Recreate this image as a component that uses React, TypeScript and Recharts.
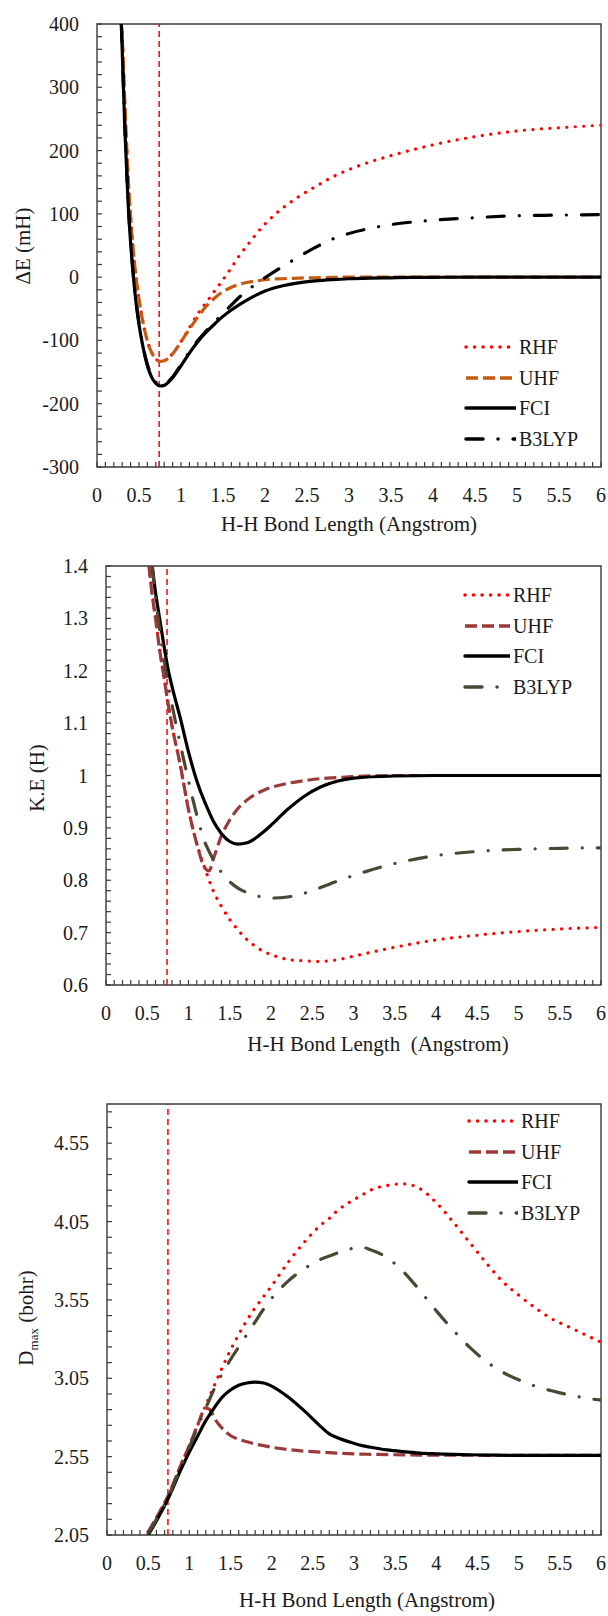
import React from "react";
import {
  LineChart,
  Line,
  XAxis,
  YAxis,
  ReferenceLine,
  ReferenceArea,
  Legend,
} from "recharts";

const FONT = '"Liberation Serif", "Times New Roman", serif';
const AXIS = "#3a3a3a";

// ---- panel 1: dissociation energy curve (mH) ----
const deR = [0.29, 0.31, 0.33, 0.35, 0.37, 0.4, 0.43, 0.46, 0.5, 0.55, 0.6, 0.65, 0.7, 0.75, 0.8, 0.85, 0.9, 1.0, 1.1, 1.2, 1.3, 1.4, 1.5, 1.6, 1.7, 1.8, 1.9, 2.0, 2.2, 2.4, 2.6, 2.8, 3.0, 3.25, 3.5, 3.75, 4.0, 4.5, 5.0, 5.5, 6.0];
const deRHF = [400, 352, 280, 218, 160, 95, 45, 5, -35, -73, -101, -119, -129, -133, -132, -128, -121, -102, -80, -58, -40, -22, -4, 15, 35, 52, 69, 84, 108, 127, 143, 158, 170, 182, 192, 201, 209, 222, 231, 236, 240];
const deUHF = [400, 352, 280, 218, 160, 95, 45, 5, -35, -73, -101, -119, -129, -133, -132, -128, -121, -102, -82, -63, -46, -33, -23, -16, -11, -8, -6, -4, -2.5, -1.5, -1, -0.5, 0, 0, 0, 0, 0, 0, 0, 0, 0];
const deFCI = [400, 318, 240, 178, 118, 55, 5, -35, -75, -112, -140, -158, -168, -172, -171, -166, -159, -140, -120, -102, -87, -74, -62, -52, -43, -35, -28, -22, -14, -9, -6, -4, -2.5, -1.5, -1, -0.5, -0.3, 0, 0, 0, 0];
const deB3LYP = [400, 320, 243, 181, 121, 58, 8, -32, -72, -110, -138, -156, -166, -170, -169, -165, -158, -138, -118, -100, -85, -71, -57, -44, -31, -20, -10, -1, 16, 32, 47, 60, 69, 77, 83, 87, 90, 94, 97, 98, 99];

// ---- panel 2: kinetic energy (H) ----
const keR = [0.52, 0.56, 0.6, 0.65, 0.7, 0.75, 0.8, 0.9, 1.0, 1.1, 1.2, 1.25, 1.3, 1.4, 1.5, 1.6, 1.7, 1.8, 1.9, 2.0, 2.2, 2.4, 2.6, 2.8, 3.0, 3.5, 4.0, 4.5, 5.0, 5.5, 6.0];
const keRHF = [1.4, 1.345, 1.3, 1.24, 1.19, 1.14, 1.095, 1.02, 0.935, 0.87, 0.822, 0.8, 0.78, 0.75, 0.725, 0.705, 0.688, 0.675, 0.665, 0.658, 0.649, 0.646, 0.645, 0.648, 0.655, 0.672, 0.686, 0.695, 0.702, 0.707, 0.71];
const keUHF = [1.4, 1.345, 1.3, 1.24, 1.19, 1.14, 1.095, 1.02, 0.935, 0.87, 0.823, 0.818, 0.84, 0.885, 0.915, 0.937, 0.952, 0.963, 0.971, 0.977, 0.985, 0.99, 0.994, 0.996, 0.998, 1.0, 1.0, 1.0, 1.0, 1.0, 1.0];
const keFCI = [null, 1.4, 1.35, 1.3, 1.25, 1.205, 1.17, 1.11, 1.045, 0.99, 0.948, 0.93, 0.913, 0.889, 0.874, 0.869, 0.871, 0.879, 0.891, 0.905, 0.935, 0.96, 0.978, 0.989, 0.995, 0.999, 1.0, 1.0, 1.0, 1.0, 1.0];
const keB3LYP = [null, 1.4, 1.34, 1.28, 1.225, 1.175, 1.135, 1.06, 0.99, 0.925, 0.872, 0.855, 0.84, 0.815, 0.797, 0.785, 0.777, 0.771, 0.768, 0.766, 0.768, 0.775, 0.786, 0.798, 0.809, 0.832, 0.847, 0.855, 0.859, 0.861, 0.862];

// ---- panel 3: D_max (bohr) ----
const dR = [0.5, 0.6, 0.75, 0.9, 1.0, 1.1, 1.2, 1.25, 1.3, 1.4, 1.5, 1.6, 1.7, 1.8, 1.9, 2.0, 2.2, 2.4, 2.6, 2.7, 2.8, 3.0, 3.1, 3.2, 3.4, 3.6, 3.8, 4.0, 4.2, 4.4, 4.6, 4.8, 5.0, 5.2, 5.4, 5.6, 5.8, 6.0];
const dRHF = [2.07, 2.16, 2.31, 2.5, 2.62, 2.75, 2.88, 2.94, 3.0, 3.12, 3.23, 3.33, 3.42, 3.5, 3.57, 3.64, 3.79, 3.92, 4.03, 4.07, 4.12, 4.19, 4.22, 4.25, 4.28, 4.29, 4.26, 4.17, 4.05, 3.92, 3.79, 3.67, 3.58, 3.5, 3.43, 3.38, 3.33, 3.28];
const dUHF = [2.07, 2.16, 2.31, 2.5, 2.62, 2.75, 2.86, 2.85, 2.8, 2.73, 2.685, 2.66, 2.645, 2.63, 2.62, 2.61, 2.595, 2.585, 2.578, 2.575, 2.572, 2.568, 2.566, 2.565, 2.563, 2.561, 2.56, 2.56, 2.559, 2.559, 2.558, 2.558, 2.558, 2.558, 2.558, 2.558, 2.558, 2.558];
const dFCI = [2.05, 2.14, 2.29, 2.47, 2.58, 2.68, 2.78, 2.82, 2.86, 2.93, 2.975, 3.005, 3.02, 3.025, 3.02, 3.0, 2.93, 2.84, 2.74, 2.695, 2.67, 2.635, 2.62, 2.61, 2.593, 2.582, 2.573, 2.568, 2.564, 2.562, 2.56, 2.559, 2.558, 2.558, 2.558, 2.558, 2.558, 2.558];
const dB3LYP = [2.06, 2.15, 2.3, 2.49, 2.61, 2.74, 2.86, 2.92, 2.98, 3.08, 3.17, 3.25, 3.33, 3.41, 3.49, 3.56, 3.67, 3.75, 3.81, 3.83, 3.85, 3.88, 3.885, 3.87, 3.82, 3.73, 3.61, 3.48, 3.36, 3.25, 3.16, 3.09, 3.04, 3.0, 2.97, 2.945, 2.925, 2.91];

// equilibrium bond length marker
const eqBond = 0.74;

// axis ticks
const xMajor = [0, 0.5, 1, 1.5, 2, 2.5, 3, 3.5, 4, 4.5, 5, 5.5, 6];
const deMajor = [-300, -200, -100, 0, 100, 200, 300, 400];
const keMajor = [0.6, 0.7, 0.8, 0.9, 1, 1.1, 1.2, 1.3, 1.4];
const dMajor = [2.05, 2.55, 3.05, 3.55, 4.05, 4.55];

const steps = (a: number, b: number, s: number) => {
  const n = Math.round((b - a) / s);
  return Array.from({ length: n + 1 }, (_, i) => Math.round((a + i * s) * 1000) / 1000);
};
const xMinor = steps(0, 6, 0.1);
const deMinor = steps(-300, 400, 20);
const keMinor = steps(0.6, 1.4, 0.02);
const dMinor = steps(2.05, 4.75, 0.1);

const isIn = (list: number[], v: number) => list.some((m) => Math.abs(m - v) < 1e-6);

type Style = { key: string; name: string; color: string; dash?: string; cap: "round" | "butt" };

const DOT = "0.1 8.4";
const DASH = "12 5";
const DASHDOT = "17 15 0.1 15";

const styles1: Style[] = [
  { key: "rhf", name: "RHF", color: "#ff0000", dash: DOT, cap: "round" },
  { key: "uhf", name: "UHF", color: "#c55a11", dash: DASH, cap: "butt" },
  { key: "fci", name: "FCI", color: "#000000", cap: "round" },
  { key: "b3", name: "B3LYP", color: "#000000", dash: DASHDOT, cap: "round" },
];
const styles2: Style[] = [
  { key: "rhf", name: "RHF", color: "#ff0000", dash: DOT, cap: "round" },
  { key: "uhf", name: "UHF", color: "#9b3a3a", dash: DASH, cap: "butt" },
  { key: "fci", name: "FCI", color: "#000000", cap: "round" },
  { key: "b3", name: "B3LYP", color: "#4a4833", dash: DASHDOT, cap: "round" },
];

const rows = (r: number[], a: any[], b: any[], c: any[], d: any[]) =>
  r.map((x, i) => ({ x, rhf: a[i], uhf: b[i], fci: c[i], b3: d[i] }));

const AX_W = 60; // y axis band width
const AX_H = 40; // x axis band height

const makeXTick = (major: number[]) => (p: any) => {
  const { x, y, payload } = p;
  const v = payload.value;
  return (
    <g>
      <line x1={x} y1={y} x2={x} y2={y - 5} stroke={AXIS} strokeWidth={1.2} />
      {isIn(major, v) && (
        <text x={x} y={y + 35} textAnchor="middle" fontSize={20} fontFamily={FONT} fill="#1a1a1a">
          {String(v)}
        </text>
      )}
    </g>
  );
};

const makeYTick = (major: number[]) => (p: any) => {
  const { x, y, payload } = p;
  const v = payload.value;
  return (
    <g>
      <line x1={x} y1={y} x2={x + 5} y2={y} stroke={AXIS} strokeWidth={1.2} />
      {isIn(major, v) && (
        <text x={x - 18} y={y + 7} textAnchor="end" fontSize={20} fontFamily={FONT} fill="#1a1a1a">
          {String(v)}
        </text>
      )}
    </g>
  );
};

function LegendBox({ items, sw }: { items: Style[]; sw: number }) {
  return (
    <div style={{ fontFamily: FONT, fontSize: 20, color: "#1a1a1a" }}>
      {items.map((s) => (
        <div key={s.key} style={{ display: "flex", alignItems: "center", height: 30.5 }}>
          <svg width={sw} height={10} style={{ display: "block" }}>
            <line
              x1={2}
              y1={5}
              x2={sw}
              y2={5}
              stroke={s.color}
              strokeWidth={3.5}
              strokeDasharray={s.dash}
              strokeLinecap={s.cap}
            />
          </svg>
          <span style={{ marginLeft: 3, lineHeight: "30px" }}>{s.name}</span>
        </div>
      ))}
    </div>
  );
}

type PanelProps = {
  top: number;
  height: number;
  plot: { left: number; top: number; right: number; bottom: number }; // pixel edges inside the panel
  data: any[];
  series: Style[];
  yDomain: [number, number];
  yMajor: number[];
  yMinor: number[];
  legend: { left: number; top: number; sw: number };
  yTitle: React.ReactNode;
  yTitlePos: [number, number];
  xTitle: string;
  xTitlePos: [number, number];
};

function Panel(p: PanelProps) {
  const margin = {
    top: p.plot.top,
    right: 608 - p.plot.right,
    bottom: p.height - p.plot.bottom - AX_H,
    left: p.plot.left - AX_W,
  };
  return (
    <div style={{ position: "absolute", left: 0, top: p.top, width: 608, height: p.height }}>
      <LineChart width={608} height={p.height} data={p.data} margin={margin}>
        <XAxis
          dataKey="x"
          type="number"
          domain={[0, 6]}
          allowDataOverflow
          ticks={xMinor}
          interval={0}
          height={AX_H}
          tickSize={0}
          tickMargin={0}
          axisLine={false}
          tickLine={false}
          tick={makeXTick(xMajor)}
        />
        <YAxis
          type="number"
          domain={p.yDomain}
          allowDataOverflow
          ticks={p.yMinor}
          interval={0}
          width={AX_W}
          tickSize={0}
          tickMargin={0}
          axisLine={false}
          tickLine={false}
          tick={makeYTick(p.yMajor)}
        />
        <ReferenceArea
          x1={0}
          x2={6}
          y1={p.yDomain[0]}
          y2={p.yDomain[1]}
          fill="none"
          fillOpacity={0}
          stroke={AXIS}
          strokeWidth={1.4}
        />
        <ReferenceLine x={eqBond} stroke="#ff0000" strokeWidth={1.5} strokeDasharray="6 4" />
        {p.series.map((s) => (
          <Line
            key={s.key}
            dataKey={s.key}
            name={s.name}
            type="monotone"
            stroke={s.color}
            strokeWidth={3.2}
            strokeDasharray={s.dash}
            strokeLinecap={s.cap}
            dot={false}
            activeDot={false}
            isAnimationActive={false}
          />
        ))}
        <Legend
          layout="vertical"
          align="center"
          verticalAlign="middle"
          wrapperStyle={{ left: p.legend.left, top: p.legend.top, width: 140 }}
          content={() => <LegendBox items={p.series} sw={p.legend.sw} />}
        />
      </LineChart>
      <div
        style={{
          position: "absolute",
          left: p.yTitlePos[0],
          top: p.yTitlePos[1],
          transform: "translate(-50%, -50%) rotate(-90deg)",
          whiteSpace: "nowrap",
          fontFamily: FONT,
          fontSize: 21,
          color: "#1a1a1a",
        }}
      >
        {p.yTitle}
      </div>
      <div
        style={{
          position: "absolute",
          left: p.xTitlePos[0],
          top: p.xTitlePos[1],
          transform: "translate(-50%, -50%)",
          whiteSpace: "pre",
          fontFamily: FONT,
          fontSize: 21,
          color: "#1a1a1a",
        }}
      >
        {p.xTitle}
      </div>
    </div>
  );
}

export default function App() {
  return (
    <div style={{ position: "absolute", left: 0, top: 0, width: 608, height: 1616, background: "#fff" }}>
      <Panel
        top={0}
        height={540}
        plot={{ left: 97, top: 24, right: 601, bottom: 467 }}
        data={rows(deR, deRHF, deUHF, deFCI, deB3LYP)}
        series={styles1}
        yDomain={[-300, 400]}
        yMajor={deMajor}
        yMinor={deMinor}
        legend={{ left: 464, top: 332, sw: 52 }}
        yTitle="ΔE (mH)"
        yTitlePos={[23, 246]}
        xTitle="H-H Bond Length (Angstrom)"
        xTitlePos={[349, 524]}
      />
      <Panel
        top={540}
        height={540}
        plot={{ left: 106, top: 26, right: 601, bottom: 445 }}
        data={rows(keR, keRHF, keUHF, keFCI, keB3LYP)}
        series={styles2}
        yDomain={[0.6, 1.4]}
        yMajor={keMajor}
        yMinor={keMinor}
        legend={{ left: 463, top: 40, sw: 47 }}
        yTitle="K.E (H)"
        yTitlePos={[37, 238]}
        xTitle="H-H Bond Length  (Angstrom)"
        xTitlePos={[378, 504]}
      />
      <Panel
        top={1080}
        height={536}
        plot={{ left: 107, top: 24, right: 601, bottom: 455 }}
        data={rows(dR, dRHF, dUHF, dFCI, dB3LYP)}
        series={styles2}
        yDomain={[2.05, 4.8]}
        yMajor={dMajor}
        yMinor={dMinor}
        legend={{ left: 467, top: 26, sw: 51 }}
        yTitle={
          <span>
            D<sub style={{ fontSize: 13 }}>max</sub> (bohr)
          </span>
        }
        yTitlePos={[28, 238]}
        xTitle="H-H Bond Length (Angstrom)"
        xTitlePos={[367, 520]}
      />
    </div>
  );
}
